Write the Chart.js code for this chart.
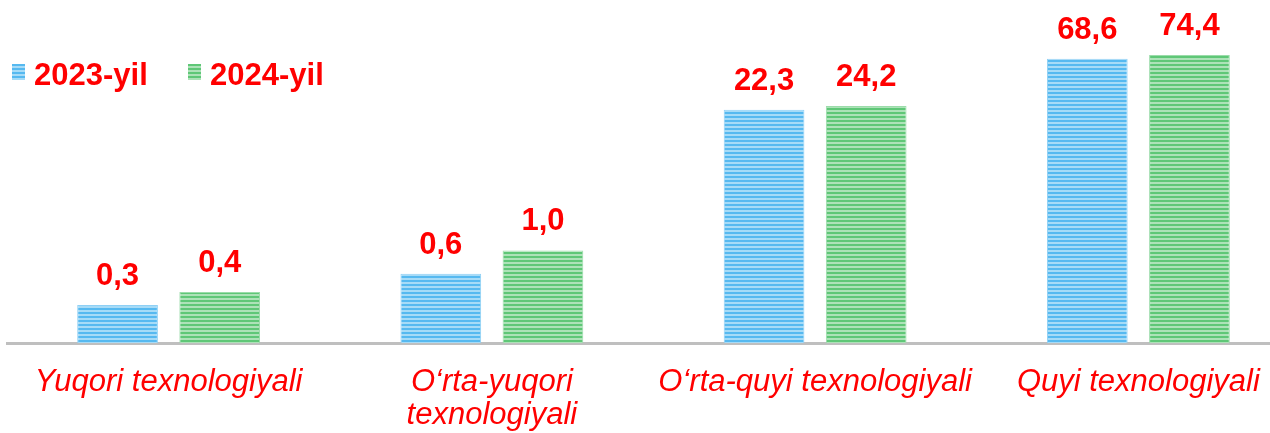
<!DOCTYPE html>
<html>
<head>
<meta charset="utf-8">
<script src="https://cdn.jsdelivr.net/npm/chart.js"></script>
<style>
  html, body { margin: 0; padding: 0; background: #fff; overflow: hidden; }
  #wrap { width: 1300px; height: 433px; position: relative; }
</style>
</head>
<body>
<div id="wrap"><canvas id="techChart"></canvas></div>
<script>
var categories = ['Yuqori texnologiyali', ['O\u2018rta-yuqori', 'texnologiyali'], 'O\u2018rta-quyi texnologiyali', 'Quyi texnologiyali'];
var seriesNames = ['2023-yil', '2024-yil'];
var values2023 = [0.3, 0.6, 22.3, 68.6];
var values2024 = [0.4, 1.0, 24.2, 74.4];

var FONT = '"Liberation Sans", Arial, sans-serif';

// striped fill like the original bars
function stripes(dark, light) {
    var c = document.createElement('canvas');
    c.width = 4; c.height = 4;
    var g = c.getContext('2d');
    g.fillStyle = dark; g.fillRect(0, 0, 4, 2);
    g.fillStyle = light; g.fillRect(0, 2, 4, 2);
    return g.createPattern(c, 'repeat');
}
var blueFill = stripes('#56b9f0', '#a6dbf7');
var greenFill = stripes('#5fc777', '#ade2b8');

var valueLabels = {
    id: 'valueLabels',
    afterDatasetsDraw: function(chart) {
        var ctx = chart.ctx;
        ctx.save();
        ctx.font = 'bold 31px ' + FONT;
        ctx.fillStyle = '#ff0000';
        ctx.textAlign = 'center';
        ctx.textBaseline = 'alphabetic';
        chart.data.datasets.forEach(function(ds, i) {
            chart.getDatasetMeta(i).data.forEach(function(bar, j) {
                var txt = ds.data[j].toFixed(1).replace('.', ',');
                ctx.fillText(txt, bar.x, bar.y - 20);
            });
        });
        ctx.restore();
    }
};

// legend drawn by hand so it can sit at the top left like the original
var topLegend = {
    id: 'topLegend',
    afterDraw: function(chart) {
        var ctx = chart.ctx;
        var xs = [12, 188];
        ctx.save();
        ctx.font = 'bold 31px ' + FONT;
        ctx.textBaseline = 'alphabetic';
        ctx.textAlign = 'left';
        chart.data.datasets.forEach(function(ds, i) {
            ctx.fillStyle = ds.backgroundColor;
            ctx.fillRect(xs[i], 64, 13, 16);
            ctx.fillStyle = '#ff0000';
            ctx.fillText(ds.label, xs[i] + 22, 85);
        });
        ctx.restore();
    }
};

var ctx = document.getElementById('techChart').getContext('2d');
var techChart = new Chart(ctx, {
    type: 'bar',
    data: {
        labels: categories,
        datasets: [{
            label: seriesNames[0],
            data: values2023,
            backgroundColor: blueFill,
            borderColor: '#8fd0f5',
            borderWidth: 1,
            categoryPercentage: 0.632,
            barPercentage: 0.79
        }, {
            label: seriesNames[1],
            data: values2024,
            backgroundColor: greenFill,
            borderColor: '#9bdcaa',
            borderWidth: 1,
            categoryPercentage: 0.632,
            barPercentage: 0.79
        }]
    },
    options: {
        responsive: true,
        maintainAspectRatio: false,
        animation: false,
        layout: {
            padding: { top: 44, left: 7, right: 0, bottom: 0 }
        },
        scales: {
            x: {
                grid: { display: false, drawTicks: false },
                border: { display: true, color: '#bfbfbf', width: 3 },
                ticks: {
                    color: '#ff0000',
                    padding: 23,
                    maxRotation: 0,
                    autoSkip: false,
                    font: { family: FONT, size: 31, style: 'italic', lineHeight: 1.065 }
                },
                afterFit: function(scale) { scale.height = 90; }
            },
            y: {
                type: 'logarithmic',
                display: false,
                min: 0.13,
                max: 95
            }
        },
        plugins: {
            legend: { display: false },
            tooltip: { enabled: false }
        }
    },
    plugins: [valueLabels, topLegend]
});
</script>
</body>
</html>
